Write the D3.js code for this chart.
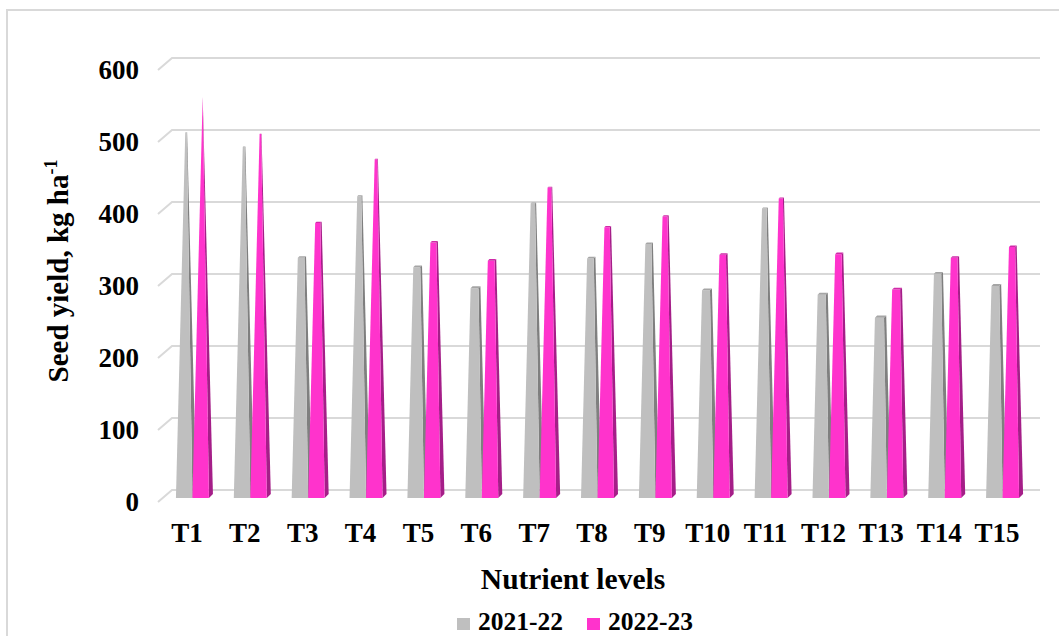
<!DOCTYPE html>
<html>
<head>
<meta charset="utf-8">
<script src="https://cdn.jsdelivr.net/npm/d3@7"></script>
<style>
  body { margin: 0; background: #fff; }
  text { font-family: "Liberation Serif", "Times New Roman", serif; font-weight: bold; fill: #000; }
</style>
</head>
<body>
<svg id="chart"></svg>
<script>
// Data
var categories = ["T1", "T2", "T3", "T4", "T5", "T6", "T7", "T8", "T9", "T10", "T11", "T12", "T13", "T14", "T15"];
var yield2122 = [505, 485, 332, 417, 319, 290, 407, 331, 351, 287, 400, 281, 249, 310, 293];
var yield2223 = [555, 503, 380, 468, 353, 328, 429, 374, 389, 336, 414, 337, 288, 332, 347];
var seriesNames = ["2021-22", "2022-23"];
var yTicks = [0, 100, 200, 300, 400, 500, 600];

var w = 1059, h = 636;

// colours for each series: front, side, top
var colors = [
    { front: "#BFBFBF", side: "#7F7F7F", top: "#A5A5A5" },
    { front: "#FF33CC", side: "#A51E88", top: "#D02AA8" }
];

// back wall of the 3D plot
var xScale = d3.scaleBand()
    .domain(categories)
    .range([172, 1040]);

var yScale = d3.scaleLinear()
    .domain([0, 600])
    .range([490, 58]);

// offset from the back wall to the front plane (side wall depth)
var wallDx = -14, wallDy = 12;
// bars sit in the middle of the depth
var barDx = -8, barDy = 8;
var barW = 16.5;
var depthDx = 4, depthDy = -4;

var svg = d3.select("#chart")
    .attr("width", w)
    .attr("height", h);

// outer frame (runs off the picture on the right and bottom)
svg.append("rect")
    .attr("x", 7)
    .attr("y", 10)
    .attr("width", 1070)
    .attr("height", 650)
    .attr("fill", "none")
    .attr("stroke", "#D9D9D9")
    .attr("stroke-width", 2);

// gridlines on back wall + side wall
var grid = svg.append("g").attr("class", "grid");
yTicks.forEach(function (t) {
    var y = yScale(t);
    grid.append("path")
        .attr("d", "M" + (172 + wallDx) + "," + (y + wallDy) + "L172," + y + "L1040," + y)
        .attr("fill", "none")
        .attr("stroke", "#D9D9D9")
        .attr("stroke-width", 2);
});

// y tick labels on front plane
svg.append("g").selectAll("text")
    .data(yTicks)
    .enter().append("text")
    .attr("x", 139)
    .attr("y", function (d) { return yScale(d) + wallDy; })
    .attr("dy", "0.35em")
    .attr("text-anchor", "end")
    .attr("font-size", "27px")
    .text(function (d) { return d; });

// x tick labels on front plane
svg.append("g").selectAll("text")
    .data(categories)
    .enter().append("text")
    .attr("x", function (d) { return xScale(d) + xScale.bandwidth() / 2 + wallDx; })
    .attr("y", 542)
    .attr("text-anchor", "middle")
    .attr("font-size", "27px")
    .text(function (d) { return d; });

// pyramid-to-max bars
var maxVal = d3.max(yield2122.concat(yield2223));
var pxPerUnit = yScale(0) - yScale(1);
var H = maxVal * pxPerUnit;

function project(x0, yb, X, Z, hgt) {
    return [x0 + X + Z * depthDx, yb - hgt + Z * depthDy];
}

function pts(arr) {
    return arr.map(function (p) { return p[0].toFixed(2) + "," + p[1].toFixed(2); }).join(" ");
}

var bars = svg.append("g").attr("class", "bars");

categories.forEach(function (cat, i) {
    [yield2122[i], yield2223[i]].forEach(function (v, s) {
        var x0 = xScale(cat) + xScale.bandwidth() / 2 + barDx - 17 + s * barW;
        var yb = yScale(0) + barDy;
        var hgt = v * pxPerUnit;
        var f = hgt / H;
        var xl = f * barW / 2, xr = barW - f * barW / 2;
        var zf = f / 2, zb = 1 - f / 2;
        var c = colors[s];

        var g = bars.append("g").attr("class", "bar s" + s);

        // right side face
        g.append("polygon")
            .attr("points", pts([
                project(x0, yb, barW, 0, 0),
                project(x0, yb, barW, 1, 0),
                project(x0, yb, xr, zb, hgt),
                project(x0, yb, xr, zf, hgt)
            ]))
            .attr("fill", c.side);

        // front face
        g.append("polygon")
            .attr("points", pts([
                project(x0, yb, 0, 0, 0),
                project(x0, yb, barW, 0, 0),
                project(x0, yb, xr, zf, hgt),
                project(x0, yb, xl, zf, hgt)
            ]))
            .attr("fill", c.front);

        // top face
        g.append("polygon")
            .attr("points", pts([
                project(x0, yb, xl, zf, hgt),
                project(x0, yb, xr, zf, hgt),
                project(x0, yb, xr, zb, hgt),
                project(x0, yb, xl, zb, hgt)
            ]))
            .attr("fill", c.top);
    });
});

// axis titles
svg.append("text")
    .attr("x", 573)
    .attr("y", 589)
    .attr("text-anchor", "middle")
    .attr("font-size", "29.5px")
    .text("Nutrient levels");

var yt = svg.append("text")
    .attr("transform", "translate(68,271) rotate(-90)")
    .attr("text-anchor", "middle")
    .attr("font-size", "29px");
yt.append("tspan").text("Seed yield, kg ha");
yt.append("tspan")
    .attr("font-size", "18px")
    .attr("dy", "-11")
    .text("-1");

// legend
var legendX = [457, 587];
var legend = svg.append("g").attr("class", "legend");
seriesNames.forEach(function (name, i) {
    legend.append("rect")
        .attr("x", legendX[i])
        .attr("y", 618)
        .attr("width", 13)
        .attr("height", 12)
        .attr("fill", colors[i].front);
    legend.append("text")
        .attr("x", legendX[i] + 21)
        .attr("y", 630)
        .attr("font-size", "25.5px")
        .text(name);
});
</script>
</body>
</html>
